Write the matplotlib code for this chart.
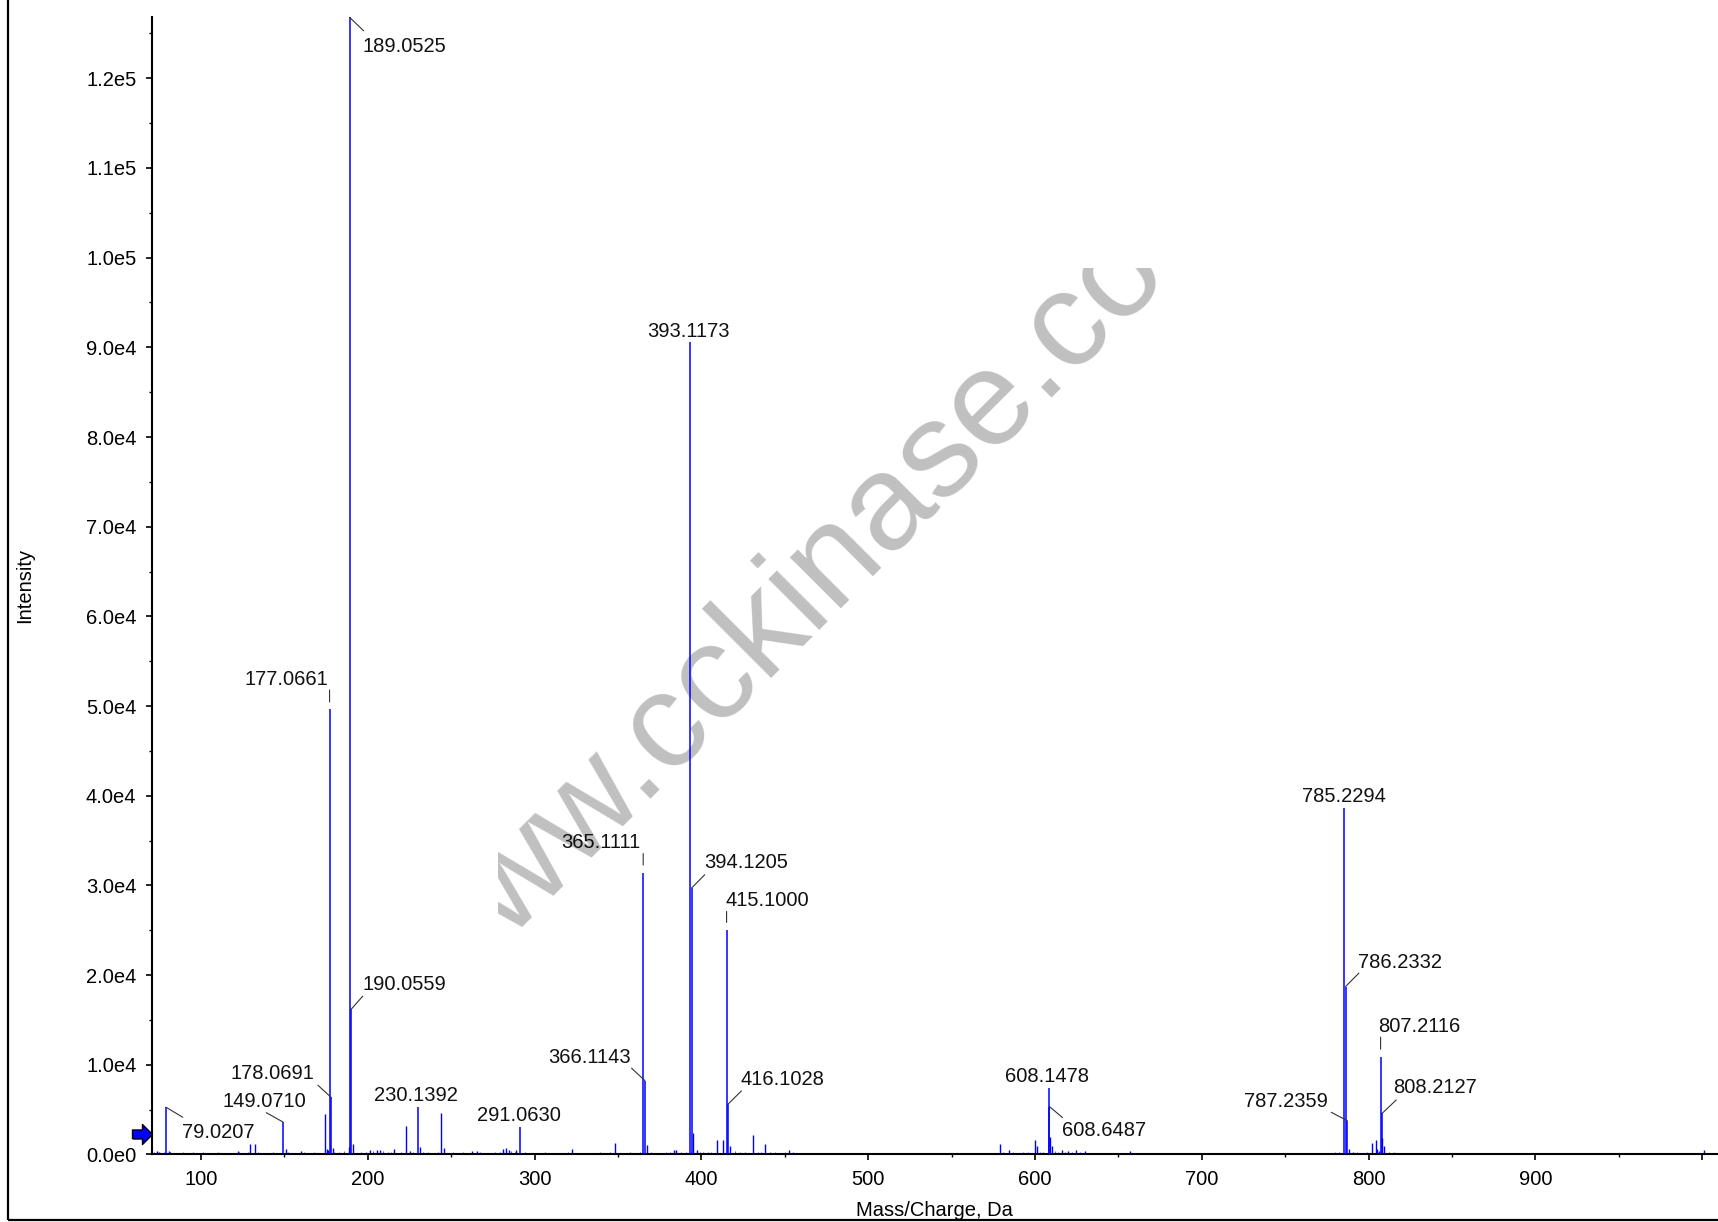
import matplotlib
matplotlib.use('Agg')
import matplotlib.pyplot as plt
from matplotlib.path import Path
from matplotlib.patches import Rectangle
from matplotlib.transforms import offset_copy, Bbox, TransformedBbox
from matplotlib.ticker import MultipleLocator, FuncFormatter

plt.rcParams['font.family'] = ['Liberation Sans', 'DejaVu Sans']

# labelled peaks (m/z, intensity)
label_mz = [79.0207, 149.0710, 177.0661, 178.0691, 189.0525, 190.0559,
            230.1392, 291.0630, 365.1111, 366.1143, 393.1173, 394.1205,
            415.1000, 416.1028, 608.1478, 608.6487, 785.2294, 786.2332,
            787.2359, 807.2116, 808.2127]
label_int = [5270, 3630, 49680, 6360, 126800, 16200,
             5270, 3040, 31440, 8240, 90570, 29710,
             25060, 5640, 7390, 5350, 38690, 18730,
             3770, 10850, 4600]

# unlabelled peaks
peak_mz = [73.8, 75.0, 80.9, 81.7, 84.1, 121.9, 129.4, 132.2, 150.9, 160.1,
           174.1, 175.6, 176.1, 179.4, 188.6, 191.2, 201.2, 205.8, 207.4, 215.8,
           223.1, 225.4, 231.4, 244.1, 245.4, 262.6, 265.6, 281.0, 283.0, 284.6,
           289.0, 322.3, 348.4, 367.1, 383.5, 385.0, 395.1, 397.1, 409.5, 412.9,
           417.1, 431.0, 438.2, 452.5, 578.8, 584.2, 600.2, 601.0, 609.2, 610.1,
           616.0, 620.0, 624.5, 630.0, 657.0, 788.3, 790.9, 802.3, 804.2, 805.1,
           806.2, 808.3, 809.4, 1001.0]
peak_int = [370, 260, 370, 260, 220, 410, 1170, 1150, 600, 410,
            4460, 630, 500, 700, 890, 1120, 450, 450, 520, 560,
            3150, 370, 820, 4600, 740, 370, 410, 560, 740, 450,
            450, 600, 1250, 1100, 500, 500, 2430, 500, 1620, 1600,
            900, 2180, 1140, 450, 1140, 500, 1620, 1000, 1960, 1000,
            450, 400, 500, 400, 350, 610, 300, 1250, 1620, 600,
            400, 1880, 1000, 500]

# baseline noise sticks
noise_mz = [72, 76, 78, 83, 86, 89, 92, 95, 98, 101, 104, 107, 110, 113, 116,
            119, 123, 126, 128, 131, 134, 137, 140, 143, 146, 152, 155, 158, 162, 165,
            168, 171, 180, 183, 186, 193, 196, 199, 203, 209, 212, 214, 217, 220, 227,
            229, 233, 236, 239, 242, 248, 251, 254, 257, 260, 263, 267, 270, 273, 276,
            279, 286, 288, 294, 297, 300, 303, 306, 309, 312, 315, 318, 320, 324, 327,
            330, 333, 336, 339, 342, 345, 351, 354, 357, 360, 363, 370, 373, 376, 379,
            381, 388, 391, 399, 401, 404, 406, 420, 423, 426, 429, 434, 436, 441, 444,
            447, 450, 455, 458, 461, 464, 467, 470, 473, 476, 479, 482, 485, 488, 491,
            494, 497, 500, 503, 506, 509, 512, 515, 518, 521, 524, 527, 530, 533, 536,
            539, 542, 545, 548, 551, 554, 557, 560, 563, 566, 569, 572, 575, 581, 587,
            590, 593, 596, 603, 605, 612, 614, 618, 622, 627, 633, 636, 639, 642, 645,
            648, 651, 654, 660, 663, 666, 669, 672, 675, 678, 681, 684, 687, 690, 693,
            696, 699, 702, 705, 708, 711, 714, 717, 720, 723, 726, 729, 732, 735, 738,
            741, 744, 747, 750, 753, 756, 759, 762, 765, 768, 771, 774, 777, 780, 782,
            793, 796, 799, 812, 815, 818, 821, 824, 827, 830, 833, 836, 839, 842, 845,
            848, 851, 854, 857, 860, 863, 866, 869, 872, 875, 878, 881, 884, 887, 890,
            893, 896, 899, 902, 905, 908, 911, 914, 917, 920, 923, 926, 929, 932, 935,
            938, 941, 944, 947, 950, 953, 956, 959, 962, 965, 968, 971, 974, 977, 980,
            983, 986, 989, 992, 995, 998, 1003, 1006]
noise_int = [250, 180, 300, 220, 150, 260, 180, 300, 150, 280, 200, 150, 240, 180, 200,
             220, 330, 180, 280, 200, 240, 160, 200, 260, 180, 300, 200, 150, 240, 180,
             260, 220, 300, 280, 340, 200, 250, 260, 380, 350, 240, 300, 200, 260, 300,
             220, 300, 250, 200, 280, 180, 240, 200, 260, 220, 200, 300, 180, 220, 260,
             300, 340, 280, 260, 200, 220, 180, 250, 160, 220, 200, 180, 240, 160, 200,
             180, 220, 160, 240, 200, 260, 220, 180, 240, 200, 300, 260, 200, 220, 250,
             240, 300, 260, 300, 280, 320, 260, 340, 300, 280, 220, 300, 240, 320, 260,
             220, 300, 240, 200, 220, 180, 200, 160, 220, 180, 160, 200, 150, 180, 160,
             200, 150, 180, 160, 140, 180, 150, 200, 140, 160, 180, 150, 170, 140, 160,
             180, 150, 160, 200, 150, 170, 140, 200, 180, 220, 160, 200, 220, 260, 240,
             220, 260, 240, 300, 280, 400, 300, 320, 260, 280, 200, 220, 180, 200, 220,
             180, 160, 200, 160, 180, 150, 170, 140, 160, 180, 150, 170, 140, 160, 150,
             140, 170, 150, 160, 140, 170, 150, 140, 160, 150, 170, 140, 150, 160, 140,
             160, 150, 170, 140, 160, 150, 140, 170, 150, 160, 140, 180, 200, 250, 300,
             280, 220, 250, 300, 260, 220, 200, 180, 200, 170, 160, 200, 180, 160, 170,
             180, 160, 200, 170, 220, 180, 160, 190, 170, 200, 160, 180, 170, 150, 190,
             170, 160, 180, 150, 170, 200, 160, 180, 150, 170, 190, 160, 150, 170, 180,
             160, 150, 170, 180, 150, 160, 170, 150, 180, 160, 150, 170, 160, 180, 150,
             170, 160, 150, 180, 160, 170, 200, 160]

threshold = 2290

# label placement, pixel offsets from peak top (y up)
# kind, ha, text offset, leader start, leader end
label_layout = {
    '79.0207': ('line', 'left', (16, -31), (0, 0), (16.7, -10)),
    '149.0710': ('line', 'center', (-18.6, 15.3), (0, 0), (-16.6, 9.3)),
    '177.0661': ('line', 'right', (-1.5, 24), (0, 7), (0, 19)),
    '178.0691': ('line', 'right', (-16.7, 18.3), (0, 0), (-13.4, 12.3)),
    '189.0525': ('line', 'left', (13.4, -35), (0, 0), (14, -13.4)),
    '190.0559': ('line', 'left', (11, 19), (0, 0), (11.5, 13)),
    '230.1392': ('above', 'center', (-2, 6), None, None),
    '291.0630': ('above', 'center', (-1, 6), None, None),
    '365.1111': ('line', 'right', (-3, 24.6), (0, 7.6), (0, 19)),
    '366.1143': ('line', 'right', (-14, 17.7), (0, 0), (-13.3, 12.4)),
    '393.1173': ('above', 'center', (-1, 5), None, None),
    '394.1205': ('line', 'left', (12.4, 20), (0, 0), (13.1, 13.3)),
    '415.1000': ('line', 'left', (-1, 23.3), (0, 7.3), (0, 18.3)),
    '416.1028': ('line', 'left', (12.2, 19), (0, 0), (13.2, 13)),
    '608.1478': ('above', 'center', (-2, 6), None, None),
    '608.6487': ('line', 'left', (13, -29.5), (0, 0), (13, -11)),
    '785.2294': ('above', 'center', (0, 6), None, None),
    '786.2332': ('line', 'left', (12.6, 18.4), (0, 0), (13.3, 13.4)),
    '787.2359': ('line', 'right', (-19.4, 14), (0, 0), (-16, 8.4)),
    '807.2116': ('line', 'left', (-2.7, 25.6), (0, 8), (0, 20)),
    '808.2127': ('line', 'left', (11.3, 20), (0, 0), (14, 13.3)),
}

fs = 14.5
blue = '#0000ff'

fig = plt.figure(figsize=(17.18, 12.22), dpi=100)
ax = fig.add_axes([0.0883, 0.05524, 0.9117, 0.9306])
ax.set_facecolor('none')

ax.vlines(noise_mz, 0, noise_int, colors='#5a5aff', lw=0.8, zorder=2)
ax.vlines(peak_mz, 0, peak_int, colors=blue, lw=1.0, zorder=2)
ax.vlines(label_mz, 0, label_int, colors=blue, lw=1.1, zorder=3)

ax.set_xlim(70.44, 1009.5)
ax.set_ylim(0, 126800)

for sp in ['top', 'right']:
    ax.spines[sp].set_visible(False)
for sp in ['left', 'bottom']:
    ax.spines[sp].set_linewidth(1.5)

ax.xaxis.set_major_locator(MultipleLocator(100))
ax.xaxis.set_minor_locator(MultipleLocator(50))
ax.yaxis.set_major_locator(MultipleLocator(10000))
ax.yaxis.set_minor_locator(MultipleLocator(5000))


def sci_fmt(v, pos):
    if v == 0:
        return '0.0e0'
    e = len(str(int(round(v)))) - 1
    return '%.1fe%d' % (v / 10 ** e, e)


def mz_fmt(v, pos):
    # the 1000 label falls off the right edge in the source, so it is not shown
    if v > 950:
        return ''
    return '%d' % v


ax.yaxis.set_major_formatter(FuncFormatter(sci_fmt))
ax.xaxis.set_major_formatter(FuncFormatter(mz_fmt))
ax.tick_params(which='major', direction='out', length=4, width=1.2, pad=7, labelsize=fs)
ax.tick_params(which='minor', direction='out', length=2, width=1.0)

ax.set_xlabel('Mass/Charge, Da', fontsize=fs)
ax.set_ylabel('Intensity', fontsize=fs)
ax.xaxis.set_label_coords(0.5, -0.0405)
ax.yaxis.set_label_coords(-0.0751, 0.5)

# peak labels and leader lines
for mz, h in zip(label_mz, label_int):
    txt = '%.4f' % mz
    kind, ha, (tx, ty), p0, p1 = label_layout[txt]
    ax.annotate(txt, xy=(mz, h), xytext=(tx, ty), textcoords='offset pixels',
                ha=ha, va='baseline', fontsize=fs, color='#111111', zorder=5)
    if p0 is not None:
        start = offset_copy(ax.transData, fig=fig, x=p0[0], y=p0[1], units='dots')
        ax.annotate('', xy=(mz, h), xycoords=start,
                    xytext=(p1[0] - p0[0], p1[1] - p0[1]), textcoords='offset pixels',
                    arrowprops=dict(arrowstyle='-', lw=0.8, color='#333333',
                                    shrinkA=0, shrinkB=0))

# threshold arrow on the y axis
arrow = Path([(-1, -0.45), (0, -0.45), (0, -1), (1, 0), (0, 1), (0, 0.45),
              (-1, 0.45), (-1, -0.45)])
ax.plot([-0.00607], [threshold], marker=arrow, ms=14.4, mfc=blue, mec='black',
        mew=1.0, transform=ax.get_yaxis_transform(), clip_on=False, zorder=6)

# watermark, clipped to a box like in the source image
wm = ax.text(0.2558, 0.1733, 'www.cckinase.com', transform=fig.transFigure,
             rotation=45, rotation_mode='anchor', ha='left', va='baseline',
             fontsize=98, color='#c0c0c0', zorder=1)
wm.set_clip_path(None)
wm.set_clip_box(TransformedBbox(Bbox.from_extents(0.2899, 0.2349, 0.6758, 0.7807),
                                fig.transFigure))
wm.set_clip_on(True)

# outer frame
fig.patches.append(Rectangle((0.00437, 0.00123), 1.2, 1.2, transform=fig.transFigure,
                             fill=False, lw=1.6, ec='black'))

fig.savefig('out.png', dpi=100)
